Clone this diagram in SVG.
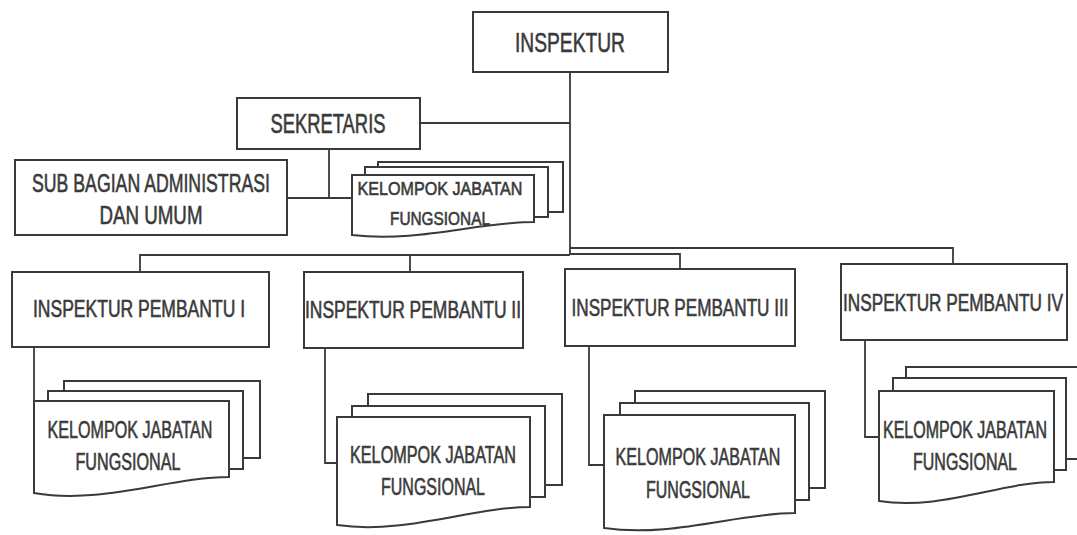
<svg xmlns="http://www.w3.org/2000/svg" width="1077" height="535" viewBox="0 0 1077 535">
<style>
.box{fill:#fff;stroke:#3a3a3a;stroke-width:2}
.sheet{fill:#fff;stroke:#3a3a3a;stroke-width:2}
.conn{fill:none;stroke:#3a3a3a;stroke-width:1.8}
text{font-family:"Liberation Sans Narrow","Liberation Sans",Arial,sans-serif;fill:#3a3a3a;stroke:#3a3a3a;stroke-width:0.6;text-anchor:middle}
.t28{font-size:28px}
.t26{font-size:26px}
.t24{font-size:24px}
.t23{font-size:23px}
.t19{font-size:19px}
</style>
<rect width="1077" height="535" fill="#fff"/>
<g id="connectors">
<path class="conn" d="M570,72 V254"/>
<path class="conn" d="M420,123 H570"/>
<path class="conn" d="M329,149 V198"/>
<path class="conn" d="M287,198 H352"/>
<path class="conn" d="M140,272 V255 H570"/>
<path class="conn" d="M570,254 H680 V269"/>
<path class="conn" d="M410,255 V272"/>
<path class="conn" d="M570,248 H953 V264"/>
<path class="conn" d="M34,347 V401"/>
<path class="conn" d="M325,348 V463 H337"/>
<path class="conn" d="M589,346 V465 H604"/>
<path class="conn" d="M865,340 V437 H879"/>
</g>
<g id="inspektur">
<rect class="box" x="473" y="12" width="195" height="60"/>
<text class="t28" x="570" y="52" textLength="110" lengthAdjust="spacingAndGlyphs">INSPEKTUR</text>
</g>
<g id="sekretaris">
<rect class="box" x="237" y="98" width="183" height="51"/>
<text class="t28" x="328" y="133" textLength="115" lengthAdjust="spacingAndGlyphs">SEKRETARIS</text>
</g>
<g id="sub-bagian">
<rect class="box" x="15" y="160" width="272" height="75"/>
<text class="t26" x="151" y="192" textLength="238" lengthAdjust="spacingAndGlyphs">SUB BAGIAN ADMINISTRASI</text>
<text class="t26" x="151" y="224" textLength="103" lengthAdjust="spacingAndGlyphs">DAN UMUM</text>
</g>
<g id="kjf-sekretariat">
<rect class="sheet" x="378" y="162" width="185" height="50"/>
<rect class="sheet" x="365" y="167" width="183" height="50"/>
<path class="sheet" d="M352,175 H534 V222 C479,222 416,243 352,235 Z"/>
<text class="t19" x="440" y="195" textLength="165" lengthAdjust="spacingAndGlyphs">KELOMPOK JABATAN</text>
<text class="t19" x="440" y="225" textLength="100" lengthAdjust="spacingAndGlyphs">FUNGSIONAL</text>
</g>
<g id="inspektur-pembantu-1">
<rect class="box" x="12" y="272" width="257" height="75"/>
<text class="t24" x="139" y="317" textLength="212" lengthAdjust="spacingAndGlyphs">INSPEKTUR PEMBANTU I</text>
</g>
<g id="inspektur-pembantu-2">
<rect class="box" x="304" y="272" width="219" height="76"/>
<text class="t24" x="413" y="318" textLength="216" lengthAdjust="spacingAndGlyphs">INSPEKTUR PEMBANTU II</text>
</g>
<g id="inspektur-pembantu-3">
<rect class="box" x="565" y="269" width="230" height="77"/>
<text class="t24" x="680" y="316" textLength="217" lengthAdjust="spacingAndGlyphs">INSPEKTUR PEMBANTU III</text>
</g>
<g id="inspektur-pembantu-4">
<rect class="box" x="841" y="264" width="226" height="76"/>
<text class="t24" x="953" y="311" textLength="220" lengthAdjust="spacingAndGlyphs">INSPEKTUR PEMBANTU IV</text>
</g>
<g id="kjf-1">
<rect class="sheet" x="64" y="381" width="196" height="77"/>
<rect class="sheet" x="48" y="391" width="195" height="78"/>
<path class="sheet" d="M34,401 H229 V477 C170,477 102,505 34,493 Z"/>
<text class="t23" x="130" y="438" textLength="165" lengthAdjust="spacingAndGlyphs">KELOMPOK JABATAN</text>
<text class="t23" x="128" y="470" textLength="105" lengthAdjust="spacingAndGlyphs">FUNGSIONAL</text>
</g>
<g id="kjf-2">
<rect class="sheet" x="368" y="394" width="194" height="91"/>
<rect class="sheet" x="352" y="406" width="193" height="91"/>
<path class="sheet" d="M337,417 H530 V507 C472,507 405,535 337,525 Z"/>
<text class="t23" x="433" y="463" textLength="166" lengthAdjust="spacingAndGlyphs">KELOMPOK JABATAN</text>
<text class="t23" x="433" y="495" textLength="104" lengthAdjust="spacingAndGlyphs">FUNGSIONAL</text>
</g>
<g id="kjf-3">
<rect class="sheet" x="635" y="391" width="190" height="97"/>
<rect class="sheet" x="620" y="403" width="189" height="97"/>
<path class="sheet" d="M604,415 H795 V513 C738,513 671,538 604,528 Z"/>
<text class="t23" x="698" y="465" textLength="165" lengthAdjust="spacingAndGlyphs">KELOMPOK JABATAN</text>
<text class="t23" x="698" y="498" textLength="104" lengthAdjust="spacingAndGlyphs">FUNGSIONAL</text>
</g>
<g id="kjf-4">
<rect class="sheet" x="906" y="367" width="180" height="92"/>
<rect class="sheet" x="893" y="378" width="173" height="92"/>
<path class="sheet" d="M879,391 H1054 V482 C1001,482 940,511 879,501 Z"/>
<text class="t23" x="965" y="438" textLength="164" lengthAdjust="spacingAndGlyphs">KELOMPOK JABATAN</text>
<text class="t23" x="965" y="470" textLength="104" lengthAdjust="spacingAndGlyphs">FUNGSIONAL</text>
</g>
</svg>
